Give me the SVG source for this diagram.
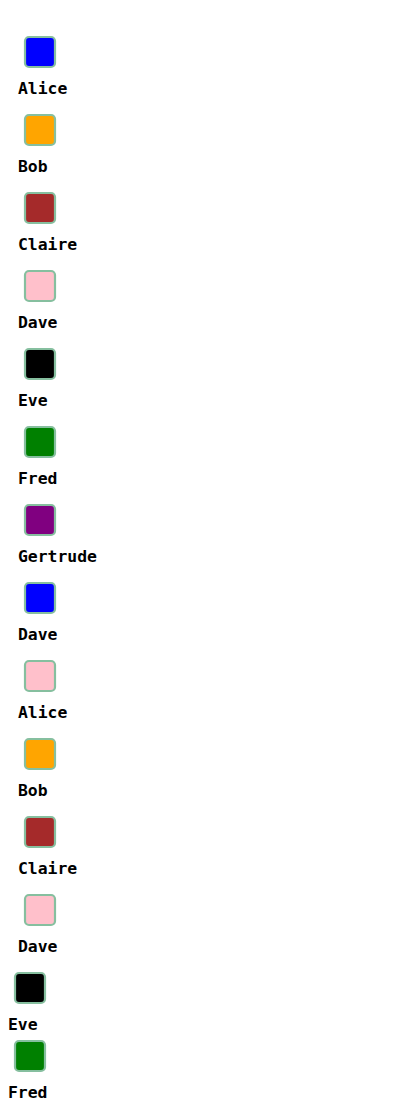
<svg xmlns="http://www.w3.org/2000/svg" width="400" height="1110" viewBox="0 0 400 1110">
<style>
.sw{stroke:#86bf9f;stroke-width:2.2}
.lb{font-family:"DejaVu Sans Mono","Liberation Mono",monospace;font-weight:bold;font-size:16.4px;fill:#000}
</style>
<rect width="400" height="1110" fill="#fff"/>
<g id="n1"><rect class="sw" x="25" y="37" width="30" height="30" rx="4" fill="blue"/><text class="lb" x="18" y="94">Alice</text></g>
<g id="n2"><rect class="sw" x="25" y="115" width="30" height="30" rx="4" fill="orange"/><text class="lb" x="18" y="172">Bob</text></g>
<g id="n3"><rect class="sw" x="25" y="193" width="30" height="30" rx="4" fill="brown"/><text class="lb" x="18" y="250">Claire</text></g>
<g id="n4"><rect class="sw" x="25" y="271" width="30" height="30" rx="4" fill="pink"/><text class="lb" x="18" y="328">Dave</text></g>
<g id="n5"><rect class="sw" x="25" y="349" width="30" height="30" rx="4" fill="black"/><text class="lb" x="18" y="406">Eve</text></g>
<g id="n6"><rect class="sw" x="25" y="427" width="30" height="30" rx="4" fill="green"/><text class="lb" x="18" y="484">Fred</text></g>
<g id="n7"><rect class="sw" x="25" y="505" width="30" height="30" rx="4" fill="purple"/><text class="lb" x="18" y="562">Gertrude</text></g>
<g id="n8"><rect class="sw" x="25" y="583" width="30" height="30" rx="4" fill="blue"/><text class="lb" x="18" y="640">Dave</text></g>
<g id="n9"><rect class="sw" x="25" y="661" width="30" height="30" rx="4" fill="pink"/><text class="lb" x="18" y="718">Alice</text></g>
<g id="n10"><rect class="sw" x="25" y="739" width="30" height="30" rx="4" fill="orange"/><text class="lb" x="18" y="796">Bob</text></g>
<g id="n11"><rect class="sw" x="25" y="817" width="30" height="30" rx="4" fill="brown"/><text class="lb" x="18" y="874">Claire</text></g>
<g id="n12"><rect class="sw" x="25" y="895" width="30" height="30" rx="4" fill="pink"/><text class="lb" x="18" y="952">Dave</text></g>
<g id="n13"><rect class="sw" x="15" y="973" width="30" height="30" rx="4" fill="black"/><text class="lb" x="8" y="1030">Eve</text></g>
<g id="n14"><rect class="sw" x="15" y="1041" width="30" height="30" rx="4" fill="green"/><text class="lb" x="8" y="1098">Fred</text></g>
<g id="connectors"/>
</svg>
